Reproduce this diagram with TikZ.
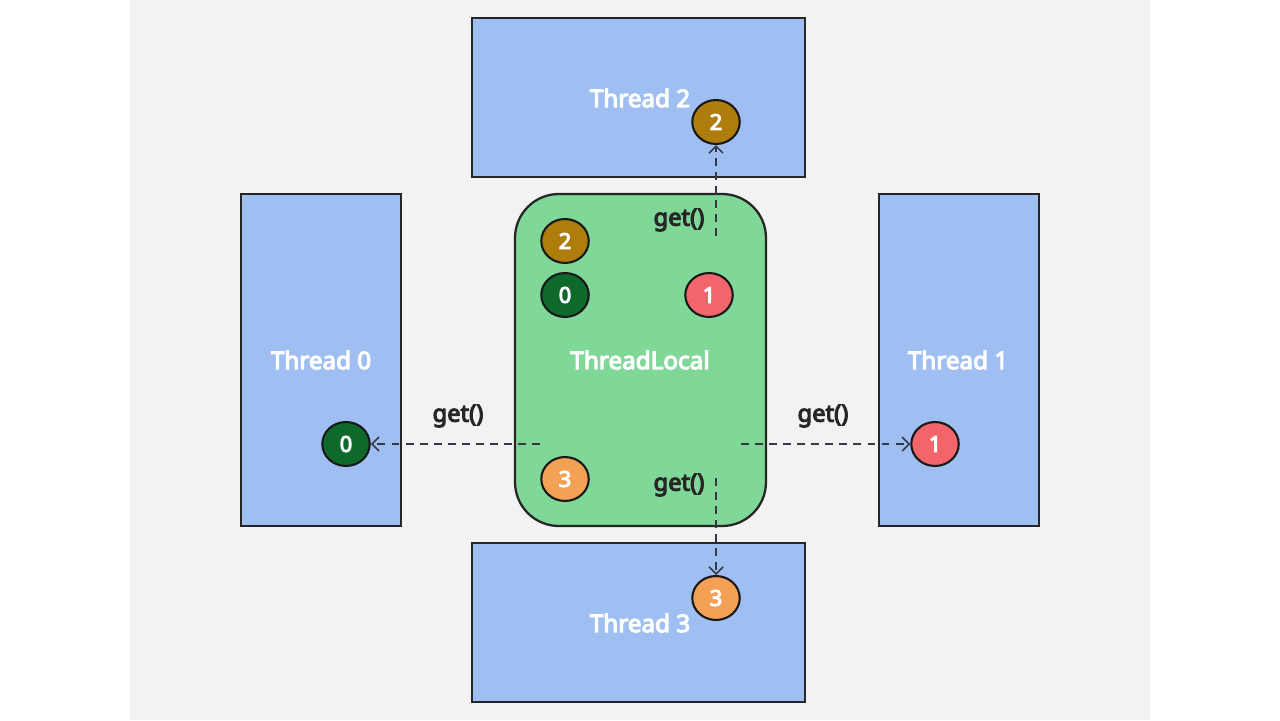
\documentclass[tikz,border=0pt]{standalone}
\usepackage{fontspec}
\setmainfont{Noto Sans}[AutoFakeBold=4.5]
\usetikzlibrary{arrows.meta}
\definecolor{bgray}{HTML}{F2F2F2}
\definecolor{tblue}{HTML}{9FBFF2}
\definecolor{tgreen}{HTML}{7FD798}
\definecolor{cgold}{HTML}{AF7D0C}
\definecolor{cdgreen}{HTML}{0D6A2B}
\definecolor{cred}{HTML}{F2656A}
\definecolor{corange}{HTML}{F4A156}
\definecolor{aline}{HTML}{333A45}
\tikzset{
  thread/.style={draw=black!85, fill=tblue, line width=1.3pt},
  tlocal/.style={draw=black!85, fill=tgreen, line width=1.3pt, rounded corners=25pt},
  val/.style={draw=black!90, line width=1.2pt, ellipse, inner sep=0pt, minimum width=27pt, minimum height=25pt, text=white, font=\fontsize{12.5}{14}\selectfont\bfseries},
  lbl/.style={text=white, font=\fontsize{13.8}{16}\selectfont\bfseries},
  getlbl/.style={text=black!85, font=\fontsize{13.5}{16}\selectfont\bfseries},
  getarrow/.style={draw=aline, line width=0.9pt, dash pattern=on 4.5pt off 3.5pt, -{Straight Barb[length=4pt,width=8pt]}}
}
\usetikzlibrary{shapes.geometric}
\begin{document}
\begin{tikzpicture}[x=0.02cm, y=-0.02cm]
  % background
  \fill[white] (0,0) rectangle (1280,720);
  \fill[bgray] (130,0) rectangle (1150,720);
  \useasboundingbox (0,0) rectangle (1280,720);

  % threads
  \draw[thread] (472,18) rectangle (805,177);
  \draw[thread] (472,543) rectangle (805,702);
  \draw[thread] (241,194) rectangle (401,526);
  \draw[thread] (879,194) rectangle (1039,526);
  \node[lbl] (t2) at (640,98) {Thread 2};
  \node[lbl] (t3) at (640,623) {Thread 3};
  \node[lbl] (t0) at (321,360) {Thread 0};
  \node[lbl] (t1) at (958,360) {Thread 1};

  % the ThreadLocal map
  \draw[tlocal] (515,194) rectangle (766,526);
  \node[lbl] (tl) at (640,360) {ThreadLocal};
  \node[val, fill=cgold] (m2) at (565,241) {2};
  \node[val, fill=cdgreen] (m0) at (565,295) {0};
  \node[val, fill=cred] (m1) at (709,295) {1};
  \node[val, fill=corange] (m3) at (565,479) {3};

  % values held by each thread
  \node[val, fill=cdgreen] (v0) at (346,444) {0};
  \node[val, fill=cred] (v1) at (935,444) {1};
  \node[val, fill=cgold] (v2) at (716,122) {2};
  \node[val, fill=corange] (v3) at (716,598) {3};

  % get() calls
  \coordinate (s0) at (540,444);
  \coordinate (s1) at (741,444);
  \coordinate (s2) at (716,236);
  \coordinate (s3) at (716,478);
  \draw[getarrow] (s0) -- (v0);
  \draw[getarrow] (s1) -- (v1);
  \draw[getarrow] (s2) -- (v2);
  \draw[getarrow] (s3) -- (v3);
  \node[getlbl] (g0) at (458,416) {get()};
  \node[getlbl] (g1) at (823,416) {get()};
  \node[getlbl] (g2) at (679,220) {get()};
  \node[getlbl] (g3) at (679,485) {get()};
\end{tikzpicture}
\end{document}
